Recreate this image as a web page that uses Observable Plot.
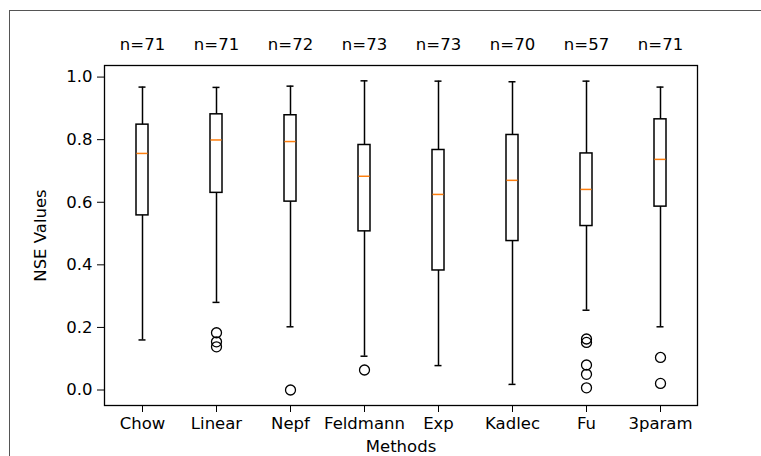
<!DOCTYPE html>
<html><head><meta charset="utf-8">
<script src="https://cdn.jsdelivr.net/npm/d3@7"></script>
<script src="https://cdn.jsdelivr.net/npm/@observablehq/plot@0.6"></script>
<style>
body{margin:0;background:#fff;}
#wrap{position:relative;width:761px;height:456px;overflow:hidden;}
#border{position:absolute;left:9px;top:10px;width:800px;height:500px;border-top:1.5px solid #555;border-left:1.5px solid #555;pointer-events:none;}
</style></head><body>
<div id="wrap"><div id="chart"></div><div id="border"></div></div>
<script>
const methods = ["Chow","Linear","Nepf","Feldmann","Exp","Kadlec","Fu","3param"];
const counts = [71,71,72,73,73,70,57,71];
const whiskerLow = [0.160,0.280,0.202,0.108,0.078,0.018,0.255,0.202];
const q1 = [0.558,0.630,0.602,0.507,0.382,0.476,0.524,0.586];
const median = [0.756,0.799,0.794,0.683,0.625,0.670,0.641,0.737];
const q3 = [0.848,0.881,0.878,0.783,0.767,0.815,0.756,0.865];
const whiskerHigh = [0.968,0.967,0.971,0.988,0.987,0.985,0.987,0.968];
const outlierMethod = ["Linear","Linear","Linear","Nepf","Feldmann","Fu","Fu","Fu","Fu","Fu","3param","3param"];
const outlierValue = [0.183,0.154,0.138,0.0,0.064,0.163,0.152,0.080,0.050,0.007,0.104,0.021];
const yTicks = [0,0.2,0.4,0.6,0.8,1.0];

const boxes = methods.map((m,i)=>({method:m, n:counts[i], lo:whiskerLow[i], q1:q1[i], med:median[i], q3:q3[i], hi:whiskerHigh[i]}));
const outliers = outlierMethod.map((m,i)=>({method:m, value:outlierValue[i]}));

const plot = Plot.plot({
  width:761, height:456, marginLeft:104, marginRight:64, marginTop:65, marginBottom:51,
  style:{fontFamily:"DejaVu Sans", fontSize:"16.5px", color:"#000", background:"transparent", overflow:"visible"},
  x:{type:"band", domain:methods, padding:0},
  y:{domain:[-0.0495,1.037]},
  marks:[
    Plot.ruleX(boxes,{x:"method", y1:"lo", y2:"q1", stroke:"#000", strokeWidth:1.5}),
    Plot.ruleX(boxes,{x:"method", y1:"q3", y2:"hi", stroke:"#000", strokeWidth:1.5}),
    Plot.tickY(boxes,{x:"method", y:"lo", insetLeft:33.5, insetRight:33.5, stroke:"#000", strokeWidth:1.5}),
    Plot.tickY(boxes,{x:"method", y:"hi", insetLeft:33.5, insetRight:33.5, stroke:"#000", strokeWidth:1.5}),
    Plot.barY(boxes,{x:"method", y1:"q1", y2:"q3", insetLeft:31, insetRight:31, fill:"none", stroke:"#000", strokeWidth:1.5}),
    Plot.tickY(boxes,{x:"method", y:"med", insetLeft:31.5, insetRight:31.5, stroke:"#ff7f0e", strokeWidth:1.5}),
    Plot.dot(outliers,{x:"method", y:"value", r:5, stroke:"#000", fill:"none", strokeWidth:1.3}),
    Plot.frame({stroke:"#000", strokeWidth:1.3}),
    Plot.axisY({ticks:yTicks, tickFormat:d3.format(".1f"), tickSize:7, tickPadding:5, label:"NSE Values", labelAnchor:"center", labelArrow:"none", labelOffset:70}),
    Plot.axisX({tickSize:7, tickPadding:5, label:"Methods", labelAnchor:"center", labelArrow:"none", labelOffset:46}),
    Plot.axisX({anchor:"top", tickSize:0, tickPadding:16, tickFormat:m => "n=" + counts[methods.indexOf(m)], label:null})
  ]
});
document.getElementById("chart").appendChild(plot);
</script>
</body></html>
